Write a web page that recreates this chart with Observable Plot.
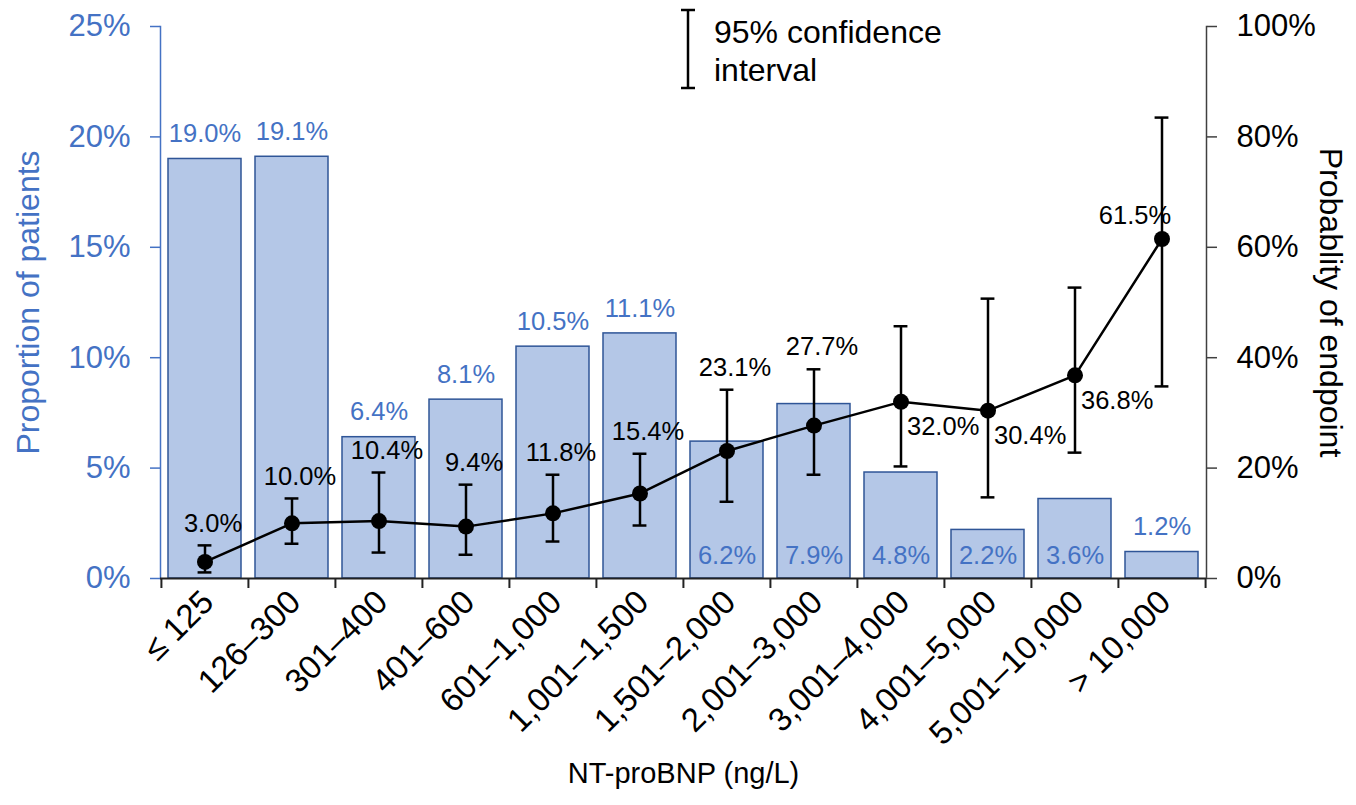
<!DOCTYPE html>
<html>
<head>
<meta charset="utf-8">
<script src="https://cdn.jsdelivr.net/npm/d3@7"></script>
<script src="https://cdn.jsdelivr.net/npm/@observablehq/plot@0.6"></script>
<style>
  html, body { margin: 0; padding: 0; background: #fff; }
  #wrap { position: relative; width: 1356px; height: 805px; font-family: "Liberation Sans", Arial, sans-serif; }
  #legend { position: absolute; left: 0; top: 0; pointer-events: none; }
</style>
</head>
<body>
<div id="wrap">
  <svg id="legend" width="1356" height="100">
    <g stroke="#000" stroke-width="2.5" fill="none">
      <line x1="688" y1="10" x2="688" y2="88"></line>
      <line x1="681" y1="10" x2="695" y2="10"></line>
      <line x1="681" y1="88" x2="695" y2="88"></line>
    </g>
    <text x="714" y="43" font-family="Liberation Sans, Arial, sans-serif" font-size="32" fill="#000">95% confidence</text>
    <text x="714" y="81" font-family="Liberation Sans, Arial, sans-serif" font-size="32" fill="#000">interval</text>
  </svg>
</div>
<script>
// ---- data ----
const categories = ["≤ 125", "126–300", "301–400", "401–600", "601–1,000", "1,001–1,500",
  "1,501–2,000", "2,001–3,000", "3,001–4,000", "4,001–5,000", "5,001–10,000", "> 10,000"];
const proportion = [19.0, 19.1, 6.4, 8.1, 10.5, 11.1, 6.2, 7.9, 4.8, 2.2, 3.6, 1.2];      // % of patients (left axis)
const probability = [3.0, 10.0, 10.4, 9.4, 11.8, 15.4, 23.1, 27.7, 32.0, 30.4, 36.8, 61.5]; // % endpoint (right axis)
const ciLower = [1.1, 6.3, 4.7, 4.3, 6.7, 9.6, 13.9, 18.8, 20.3, 14.7, 22.8, 34.8];
const ciUpper = [6.0, 14.5, 19.2, 17.0, 18.8, 22.6, 34.2, 37.9, 45.7, 50.7, 52.7, 83.5];
const leftTicks = [0, 5, 10, 15, 20, 25];
const rightTicks = [0, 20, 40, 60, 80, 100];
const barLabelPlace = ["above", "above", "above", "above", "above", "above",
  "inside", "inside", "inside", "inside", "inside", "above"];
const pointLabelPlace = ["above", "above", "above", "above", "above", "above", "above", "above",
  "belowRight", "belowRight", "belowRight", "aboveLeft"];

// ---- table ----
const RATIO = 4; // right axis 0–100% maps onto left axis 0–25%
const rows = categories.map((c, i) => ({
  cat: c,
  prop: proportion[i] / 100,
  prob: probability[i] / 100 / RATIO,
  lo: ciLower[i] / 100 / RATIO,
  hi: ciUpper[i] / 100 / RATIO,
  barLabel: proportion[i].toFixed(1) + "%",
  probLabel: probability[i].toFixed(1) + "%",
  barPlace: barLabelPlace[i],
  pointPlace: pointLabelPlace[i]
}));

const BLUE = "#4472C4";
const BAR_FILL = "#B4C7E7";
const BAR_STROKE = "#2F5597";
const W = 1356, H = 805;
const mL = 160, mR = 150, mT = 26, mB = 227;
const step = (W - mL - mR) / categories.length;
const FONT = "Liberation Sans, Arial, sans-serif";

const chart = Plot.plot({
  width: W,
  height: H,
  marginLeft: mL,
  marginRight: mR,
  marginTop: mT,
  marginBottom: mB,
  style: { fontFamily: FONT, background: "transparent", overflow: "visible" },
  x: { type: "band", domain: categories, padding: 0, axis: null },
  y: { domain: [0, 0.25], axis: null },
  marks: [
    // bars
    Plot.barY(rows, { x: "cat", y: "prop", fill: BAR_FILL, stroke: BAR_STROKE, strokeWidth: 1.5, insetLeft: 7, insetRight: 7 }),
    // bar labels
    Plot.text(rows.filter(d => d.barPlace === "above"), { x: "cat", y: "prop", text: "barLabel", dy: -25, fill: BLUE, fontSize: 25.5, lineAnchor: "middle" }),
    Plot.text(rows.filter(d => d.barPlace === "inside"), { x: "cat", y: 0, text: "barLabel", dy: -23, fill: BLUE, fontSize: 25.5, lineAnchor: "middle" }),
    // axis lines
    Plot.frame({ anchor: "left", stroke: BLUE, strokeWidth: 1.5 }),
    Plot.frame({ anchor: "right", stroke: "#404040", strokeWidth: 1.5 }),
    Plot.ruleY([0], { stroke: "#222", strokeWidth: 2 }),
    // left axis
    Plot.axisY({ anchor: "left", ticks: leftTicks.map(v => v / 100), tickFormat: d => Math.round(d * 100) + "%",
      tickSize: 10, tickPadding: 20, fontSize: 31, color: BLUE, stroke: BLUE, strokeWidth: 1.5, label: null }),
    // right axis
    Plot.axisY({ anchor: "right", ticks: rightTicks.map(v => v / 100 / RATIO), tickFormat: d => Math.round(d * RATIO * 100) + "%",
      tickSize: 10, tickPadding: 20, fontSize: 31, color: "#000", stroke: "#404040", strokeWidth: 1.5, label: null }),
    // bottom boundary ticks
    Plot.axisX({ anchor: "bottom", ticks: categories, tickSize: 10, tickFormat: () => "", dx: -step / 2, stroke: "#222", strokeWidth: 2, label: null }),
    Plot.axisX({ anchor: "bottom", ticks: categories.slice(-1), tickSize: 10, tickFormat: () => "", dx: step / 2, stroke: "#222", strokeWidth: 2, label: null }),
    // category labels
    Plot.axisX({ anchor: "bottom", ticks: categories, tickSize: 0, tickPadding: 18, tickRotate: -45, dx: 3, fontSize: 33, color: "#000", label: null }),
    // confidence intervals
    Plot.ruleX(rows, { x: "cat", y1: "lo", y2: "hi", stroke: "#000", strokeWidth: 2.5 }),
    Plot.tickY(rows, { x: "cat", y: "hi", stroke: "#000", strokeWidth: 2.5, insetLeft: step / 2 - 7, insetRight: step / 2 - 7 }),
    Plot.tickY(rows, { x: "cat", y: "lo", stroke: "#000", strokeWidth: 2.5, insetLeft: step / 2 - 7, insetRight: step / 2 - 7 }),
    // probability line
    Plot.line(rows, { x: "cat", y: "prob", stroke: "#000", strokeWidth: 2.5 }),
    Plot.dot(rows, { x: "cat", y: "prob", r: 8, fill: "#000" }),
    // point labels
    Plot.text(rows.filter(d => d.pointPlace === "above"), { x: "cat", y: "hi", text: "probLabel", dx: 8, dy: -22, fontSize: 25.5, fill: "#000", lineAnchor: "middle" }),
    Plot.text(rows.filter(d => d.pointPlace === "belowRight"), { x: "cat", y: "prob", text: "probLabel", dx: 6, dy: 25, textAnchor: "start", fontSize: 25.5, fill: "#000", lineAnchor: "middle" }),
    Plot.text(rows.filter(d => d.pointPlace === "aboveLeft"), { x: "cat", y: "prob", text: "probLabel", dx: -27, dy: -23, fontSize: 25.5, fill: "#000", lineAnchor: "middle" }),
    // axis titles
    Plot.text(["Proportion of patients"], { frameAnchor: "left", text: d => d, dx: -132, rotate: -90, textAnchor: "middle", fontSize: 32, fill: BLUE, lineAnchor: "middle" }),
    Plot.text(["Probablity of endpoint"], { frameAnchor: "right", text: d => d, dx: 124, rotate: 90, textAnchor: "middle", fontSize: 32, fill: "#000", lineAnchor: "middle" }),
    Plot.text(["NT-proBNP (ng/L)"], { frameAnchor: "bottom", text: d => d, dy: 195, fontSize: 29, fill: "#000", lineAnchor: "middle" })
  ]
});
const wrap = document.getElementById("wrap");
wrap.insertBefore(chart, wrap.firstChild);
</script>
</body>
</html>
